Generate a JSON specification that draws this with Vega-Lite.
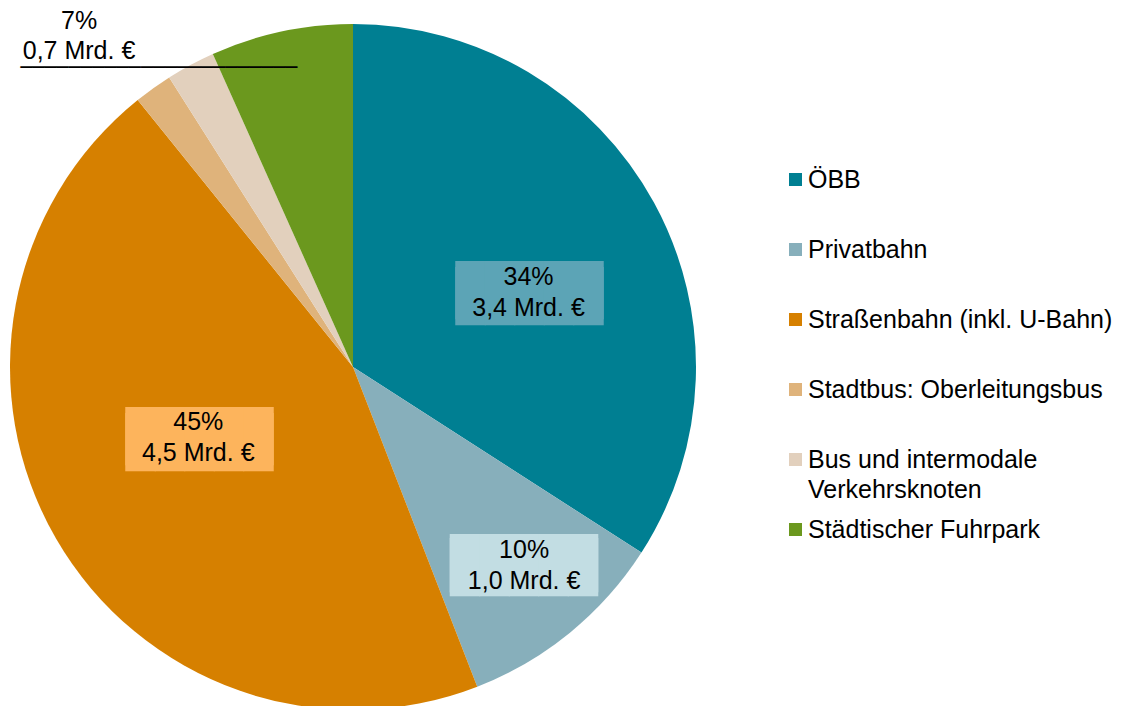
{
  "$schema": "https://vega.github.io/schema/vega-lite/v6.json",
  "width": 706,
  "height": 734,
  "autosize": {"type": "none"},
  "padding": {"left": 0, "top": 0, "right": 417, "bottom": 0},
  "background": "white",
  "config": {"view": {"stroke": null}, "text": {"font": "Liberation Sans"}},
  "data": {"values": [
    {"kategorie": "ÖBB", "anteil": 34.1, "order": 1, "beschriftung": "34%\n3,4 Mrd. €"},
    {"kategorie": "Privatbahn", "anteil": 10.0, "order": 2, "beschriftung": "10%\n1,0 Mrd. €"},
    {"kategorie": "Straßenbahn (inkl. U-Bahn)", "anteil": 45.1, "order": 3, "beschriftung": "45%\n4,5 Mrd. €"},
    {"kategorie": "Stadtbus: Oberleitungsbus", "anteil": 1.8, "order": 4, "beschriftung": "2%\n0,2 Mrd. €"},
    {"kategorie": "Bus und intermodale Verkehrsknoten", "anteil": 2.3, "order": 5, "beschriftung": "2%\n0,2 Mrd. €"},
    {"kategorie": "Städtischer Fuhrpark", "anteil": 6.7, "order": 6, "beschriftung": "7%\n0,7 Mrd. €"}
  ]},
  "encoding": {
    "theta": {"field": "anteil", "type": "quantitative", "stack": true},
    "order": {"field": "order", "type": "quantitative"}
  },
  "layer": [
    {
      "mark": {"type": "arc", "radius": 343},
      "encoding": {
        "color": {
          "field": "kategorie", "type": "nominal",
          "scale": {
            "domain": ["ÖBB", "Privatbahn", "Straßenbahn (inkl. U-Bahn)", "Stadtbus: Oberleitungsbus", "Bus und intermodale Verkehrsknoten", "Städtischer Fuhrpark"],
            "range": ["#007F92", "#87AFBB", "#D68000", "#DFB37B", "#E2D0BD", "#6B981E"]
          },
          "legend": {
            "title": null,
            "orient": "none",
            "legendX": 783,
            "legendY": 167,
            "symbolType": "square",
            "symbolSize": 169,
            "symbolStrokeWidth": 0,
            "labelFont": "Liberation Sans",
            "labelFontSize": 25,
            "labelColor": "black",
            "labelOffset": 0,
            "labelLimit": 500,
            "gridAlign": "all",
            "rowPadding": 14,
            "labelExpr": "datum.label == 'Bus und intermodale Verkehrsknoten' ? ['Bus und intermodale', 'Verkehrsknoten'] : datum.label",
            "encode": {"labels": {"update": {"lineHeight": {"value": 30}}}}
          }
        }
      }
    },
    {
      "mark": {"type": "text", "font": "DejaVu Sans Mono", "fontSize": 49, "lineHeight": 6, "baseline": "alphabetic", "align": "center", "radius": 192, "dx": 8, "dy": 31.5, "color": "#5CA4B6"},
      "encoding": {"text": {"condition": {"test": "datum.order === 1", "value": ["█████", "█████"]}, "value": ""}}
    },
    {
      "mark": {"type": "text", "font": "DejaVu Sans Mono", "fontSize": 49, "lineHeight": 4, "baseline": "alphabetic", "align": "center", "radius": 261, "dx": 6, "dy": 10.8, "color": "#C2DDE3"},
      "encoding": {"text": {"condition": {"test": "datum.order === 2", "value": ["█████", "█████"]}, "value": ""}}
    },
    {
      "mark": {"type": "text", "font": "DejaVu Sans Mono", "fontSize": 49, "lineHeight": 6, "baseline": "alphabetic", "align": "center", "radius": 170, "dx": -6.4, "dy": 0.8, "color": "#FDB45C"},
      "encoding": {"text": {"condition": {"test": "datum.order === 3", "value": ["█████", "█████"]}, "value": ""}}
    },
    {
      "mark": {"type": "text", "fontSize": 25, "lineHeight": 30.5, "lineBreak": "\n", "baseline": "alphabetic", "align": "center", "radius": 192, "dx": 7, "dy": 10, "color": "black"},
      "encoding": {"text": {"condition": {"test": "datum.order === 1", "field": "beschriftung"}, "value": ""}}
    },
    {
      "mark": {"type": "text", "fontSize": 25, "lineHeight": 30.5, "lineBreak": "\n", "baseline": "alphabetic", "align": "center", "radius": 261, "dx": 6, "dy": -10.9, "color": "black"},
      "encoding": {"text": {"condition": {"test": "datum.order === 2", "field": "beschriftung"}, "value": ""}}
    },
    {
      "mark": {"type": "text", "fontSize": 25, "lineHeight": 30.5, "lineBreak": "\n", "baseline": "alphabetic", "align": "center", "radius": 170, "dx": -7.6, "dy": -22, "color": "black"},
      "encoding": {"text": {"condition": {"test": "datum.order === 3", "field": "beschriftung"}, "value": ""}}
    },
    {
      "mark": {"type": "text", "fontSize": 25, "lineHeight": 30.5, "lineBreak": "\n", "baseline": "alphabetic", "align": "center", "radius": 343, "dx": -202.3, "dy": -2.6, "color": "black"},
      "encoding": {"text": {"condition": {"test": "datum.order === 6", "field": "beschriftung"}, "value": ""}}
    },
    {
      "mark": {"type": "text", "font": "DejaVu Sans Mono", "fontSize": 20, "baseline": "alphabetic", "align": "center", "radius": 343, "dx": -122.4, "dy": 42.2, "color": "black"},
      "encoding": {"text": {"condition": {"test": "datum.order === 6", "value": "───────────────────────"}, "value": ""}}
    }
  ]
}
